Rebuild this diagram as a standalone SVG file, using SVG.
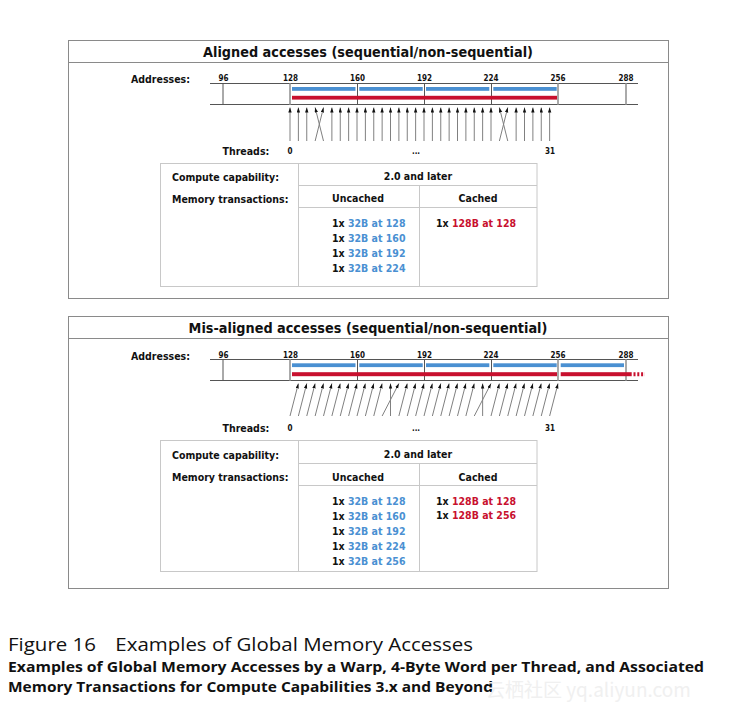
<svg xmlns="http://www.w3.org/2000/svg" width="737" height="716" viewBox="0 0 737 716">
<style>
.b{font-family:"DejaVu Sans Condensed","DejaVu Sans",sans-serif;font-weight:bold;fill:#111}
.ttl{font-size:14.3px}
.lbl{font-size:10.5px}
.num{font-size:8px}
.tb{font-size:10.5px}
.blu{fill:#4a90d2}
.red{fill:#c8102e}
.panel{fill:#fff;stroke:#8a8a8a;stroke-width:1}
.tbl{fill:none;stroke:#c8c8c8;stroke-width:1}
.strip{stroke:#555;stroke-width:1}
.dk{stroke:#555;stroke-width:1}
.lt{stroke:#aaa;stroke-width:2}
.ar{stroke:#808080;stroke-width:1;fill:none;marker-end:url(#ah)}
.cap{font-family:"Open Sans","DejaVu Sans",sans-serif;fill:#111}
</style>
<defs>
<marker id="ah" markerUnits="userSpaceOnUse" markerWidth="5" markerHeight="4" refX="5" refY="1.7" orient="auto">
<path d="M0,0 L5,1.7 L0,3.4 z" fill="#111"/>
</marker>
</defs>
<rect width="737" height="716" fill="#fff"/>

<!-- Panel 1 -->
<g id="panel1">
<rect class="panel" x="68.5" y="40.5" width="600" height="258"/>
<line x1="68.5" y1="62.5" x2="668.5" y2="62.5" stroke="#8a8a8a"/>
<text class="b ttl" x="368" y="57" text-anchor="middle">Aligned accesses (sequential/non-sequential)</text>
</g>
<g id="memory1">
<text class="b lbl" x="131" y="83">Addresses:</text>
<g class="b num" text-anchor="middle">
<text x="223.5" y="81">96</text><text x="290.5" y="81">128</text><text x="357.5" y="81">160</text><text x="424.5" y="81">192</text><text x="491" y="81">224</text><text x="558" y="81">256</text><text x="626" y="81">288</text>
</g>
<line class="strip" x1="210" y1="83.5" x2="638" y2="83.5"/>
<line class="strip" x1="210" y1="104.5" x2="638" y2="104.5"/>
<line class="dk" x1="223" y1="83.5" x2="223" y2="104.5"/>
<line class="lt" x1="290" y1="83.5" x2="290" y2="104.5"/>
<line class="dk" x1="357.5" y1="83.5" x2="357.5" y2="104.5"/>
<line class="dk" x1="424.5" y1="83.5" x2="424.5" y2="104.5"/>
<line class="dk" x1="491.5" y1="83.5" x2="491.5" y2="104.5"/>
<line class="lt" x1="558" y1="83.5" x2="558" y2="104.5"/>
<line class="lt" x1="626" y1="83.5" x2="626" y2="104.5"/>
<g class="blu"><rect x="292" y="87" width="63.5" height="3.8"/><rect x="359.3" y="87" width="63.4" height="3.8"/><rect x="426" y="87" width="63.3" height="3.8"/><rect x="493.3" y="87" width="63.4" height="3.8"/></g>
<rect class="red" x="292" y="95.8" width="265" height="3.8"/>
</g>
<g id="threads1">
<text class="b lbl" x="222.5" y="155">Threads:</text>
<g class="b num" text-anchor="middle"><text x="290" y="154">0</text><text x="416" y="154">...</text><text x="550" y="154">31</text></g>
</g>
<g id="connectors1">
<path class="ar" d="M290,141V107.5"/><path class="ar" d="M298.375,141V107.5"/><path class="ar" d="M306.75,141V107.5"/>
<path class="ar" d="M315.125,141L323.5,107.5"/><path class="ar" d="M323.5,141L315.125,107.5"/>
<path class="ar" d="M331.875,141V107.5"/><path class="ar" d="M340.25,141V107.5"/><path class="ar" d="M348.625,141V107.5"/><path class="ar" d="M357,141V107.5"/><path class="ar" d="M365.375,141V107.5"/><path class="ar" d="M373.75,141V107.5"/><path class="ar" d="M382.125,141V107.5"/><path class="ar" d="M390.5,141V107.5"/><path class="ar" d="M398.875,141V107.5"/><path class="ar" d="M407.25,141V107.5"/><path class="ar" d="M415.625,141V107.5"/><path class="ar" d="M424,141V107.5"/><path class="ar" d="M432.375,141V107.5"/><path class="ar" d="M440.75,141V107.5"/><path class="ar" d="M449.125,141V107.5"/><path class="ar" d="M457.5,141V107.5"/><path class="ar" d="M465.875,141V107.5"/><path class="ar" d="M474.25,141V107.5"/><path class="ar" d="M482.625,141V107.5"/><path class="ar" d="M491,141V107.5"/>
<path class="ar" d="M499.375,141L507.75,107.5"/><path class="ar" d="M507.75,141L499.375,107.5"/>
<path class="ar" d="M516.125,141V107.5"/><path class="ar" d="M524.5,141V107.5"/><path class="ar" d="M532.875,141V107.5"/><path class="ar" d="M541.25,141V107.5"/><path class="ar" d="M549.625,141V107.5"/>
</g>
<g id="table1">
<rect class="tbl" x="160.5" y="163.5" width="376.5" height="123"/>
<line class="tbl" x1="298.5" y1="163.5" x2="298.5" y2="286.5"/>
<line class="tbl" x1="298.5" y1="185.5" x2="537" y2="185.5"/>
<line class="tbl" x1="298.5" y1="207.5" x2="537" y2="207.5"/>
<line class="tbl" x1="419.5" y1="185.5" x2="419.5" y2="286.5"/>
<text class="b tb" x="172" y="181">Compute capability:</text>
<text class="b tb" x="172" y="203">Memory transactions:</text>
<text class="b tb" x="418" y="180" text-anchor="middle">2.0 and later</text>
<text class="b tb" x="358" y="202" text-anchor="middle">Uncached</text>
<text class="b tb" x="478" y="202" text-anchor="middle">Cached</text>
<text class="b tb" x="332" y="227">1x <tspan class="blu">32B at 128</tspan></text>
<text class="b tb" x="332" y="242">1x <tspan class="blu">32B at 160</tspan></text>
<text class="b tb" x="332" y="257">1x <tspan class="blu">32B at 192</tspan></text>
<text class="b tb" x="332" y="272">1x <tspan class="blu">32B at 224</tspan></text>
<text class="b tb" x="436" y="227">1x <tspan class="red">128B at 128</tspan></text>
</g>

<!-- Panel 2 -->
<g id="panel2">
<rect class="panel" x="68.5" y="316.5" width="600" height="272"/>
<line x1="68.5" y1="338.5" x2="668.5" y2="338.5" stroke="#8a8a8a"/>
<text class="b ttl" x="368" y="333" text-anchor="middle">Mis-aligned accesses (sequential/non-sequential)</text>
</g>
<g id="memory2">
<text class="b lbl" x="131" y="360">Addresses:</text>
<g class="b num" text-anchor="middle">
<text x="223.5" y="357.5">96</text><text x="290.5" y="357.5">128</text><text x="357.5" y="357.5">160</text><text x="424.5" y="357.5">192</text><text x="491" y="357.5">224</text><text x="558" y="357.5">256</text><text x="626" y="357.5">288</text>
</g>
<line class="strip" x1="210" y1="359.5" x2="638" y2="359.5"/>
<line class="strip" x1="210" y1="380.5" x2="638" y2="380.5"/>
<line class="dk" x1="223" y1="359.5" x2="223" y2="380.5"/>
<line class="lt" x1="290" y1="359.5" x2="290" y2="380.5"/>
<line class="dk" x1="357.5" y1="359.5" x2="357.5" y2="380.5"/>
<line class="dk" x1="424.5" y1="359.5" x2="424.5" y2="380.5"/>
<line class="dk" x1="491.5" y1="359.5" x2="491.5" y2="380.5"/>
<line class="lt" x1="558" y1="359.5" x2="558" y2="380.5"/>
<line class="lt" x1="626" y1="359.5" x2="626" y2="380.5"/>
<g class="blu"><rect x="292" y="363.3" width="63.5" height="3.8"/><rect x="359.3" y="363.3" width="63.4" height="3.8"/><rect x="426" y="363.3" width="63.3" height="3.8"/><rect x="493.3" y="363.3" width="63.4" height="3.8"/><rect x="560.7" y="363.3" width="63.3" height="3.8"/></g>
<rect class="red" x="292" y="372.2" width="265" height="4"/>
<rect class="red" x="560.7" y="372.2" width="71" height="4"/>
<line x1="633.5" y1="374.2" x2="645" y2="374.2" stroke="#c8102e" stroke-width="4" stroke-dasharray="2,1.8"/>
</g>
<g id="threads2">
<text class="b lbl" x="222.5" y="431.5">Threads:</text>
<g class="b num" text-anchor="middle"><text x="290" y="430.5">0</text><text x="416" y="430.5">...</text><text x="550" y="430.5">31</text></g>
</g>
<g id="connectors2">
<path class="ar" d="M290,416L298.375,383.5"/><path class="ar" d="M298.375,416L306.75,383.5"/><path class="ar" d="M306.75,416L315.125,383.5"/><path class="ar" d="M315.125,416L323.5,383.5"/><path class="ar" d="M323.5,416L331.875,383.5"/><path class="ar" d="M331.875,416L340.25,383.5"/><path class="ar" d="M340.25,416L348.625,383.5"/><path class="ar" d="M348.625,416L357,383.5"/><path class="ar" d="M357,416L365.375,383.5"/><path class="ar" d="M365.375,416L373.75,383.5"/><path class="ar" d="M373.75,416L382.125,383.5"/>
<path class="ar" d="M382.125,416L398.875,383.5"/><path class="ar" d="M390.5,416L390.5,383.5"/>
<path class="ar" d="M398.875,416L407.25,383.5"/><path class="ar" d="M407.25,416L415.625,383.5"/><path class="ar" d="M415.625,416L424,383.5"/><path class="ar" d="M424,416L432.375,383.5"/><path class="ar" d="M432.375,416L440.75,383.5"/><path class="ar" d="M440.75,416L449.125,383.5"/><path class="ar" d="M449.125,416L457.5,383.5"/><path class="ar" d="M457.5,416L465.875,383.5"/><path class="ar" d="M465.875,416L474.25,383.5"/>
<path class="ar" d="M474.25,416L491,383.5"/><path class="ar" d="M482.625,416L482.625,383.5"/>
<path class="ar" d="M491,416L499.375,383.5"/><path class="ar" d="M499.375,416L507.75,383.5"/><path class="ar" d="M507.75,416L516.125,383.5"/><path class="ar" d="M516.125,416L524.5,383.5"/><path class="ar" d="M524.5,416L532.875,383.5"/><path class="ar" d="M532.875,416L541.25,383.5"/><path class="ar" d="M541.25,416L549.625,383.5"/><path class="ar" d="M549.625,416L558,383.5"/>
</g>
<g id="table2">
<rect class="tbl" x="160.5" y="440.5" width="376.5" height="131"/>
<line class="tbl" x1="298.5" y1="440.5" x2="298.5" y2="571.5"/>
<line class="tbl" x1="298.5" y1="463.5" x2="537" y2="463.5"/>
<line class="tbl" x1="298.5" y1="485.5" x2="537" y2="485.5"/>
<line class="tbl" x1="419.5" y1="463.5" x2="419.5" y2="571.5"/>
<text class="b tb" x="172" y="459">Compute capability:</text>
<text class="b tb" x="172" y="481">Memory transactions:</text>
<text class="b tb" x="418" y="458" text-anchor="middle">2.0 and later</text>
<text class="b tb" x="358" y="480.5" text-anchor="middle">Uncached</text>
<text class="b tb" x="478" y="480.5" text-anchor="middle">Cached</text>
<text class="b tb" x="332" y="505">1x <tspan class="blu">32B at 128</tspan></text>
<text class="b tb" x="332" y="520">1x <tspan class="blu">32B at 160</tspan></text>
<text class="b tb" x="332" y="535">1x <tspan class="blu">32B at 192</tspan></text>
<text class="b tb" x="332" y="550">1x <tspan class="blu">32B at 224</tspan></text>
<text class="b tb" x="332" y="564.5">1x <tspan class="blu">32B at 256</tspan></text>
<text class="b tb" x="436" y="505">1x <tspan class="red">128B at 128</tspan></text>
<text class="b tb" x="436" y="518.5">1x <tspan class="red">128B at 256</tspan></text>
</g>

<g id="caption">
<text class="cap" x="8" y="651" font-size="19" textLength="465" lengthAdjust="spacingAndGlyphs">Figure 16<tspan dx="18">Examples of Global Memory Accesses</tspan></text>
<text class="cap" x="8" y="672" font-size="14.5" font-weight="bold" textLength="696" lengthAdjust="spacingAndGlyphs">Examples of Global Memory Accesses by a Warp, 4-Byte Word per Thread, and Associated</text>
<text class="cap" x="8" y="692" font-size="14.5" font-weight="bold" textLength="485" lengthAdjust="spacingAndGlyphs">Memory Transactions for Compute Capabilities 3.x and Beyond</text>
<text x="486" y="697" font-family="'Noto Sans CJK SC','Liberation Sans',sans-serif" font-size="19" fill="#f0f0f0">云栖社区 yq.aliyun.com</text>
</g>
</svg>
